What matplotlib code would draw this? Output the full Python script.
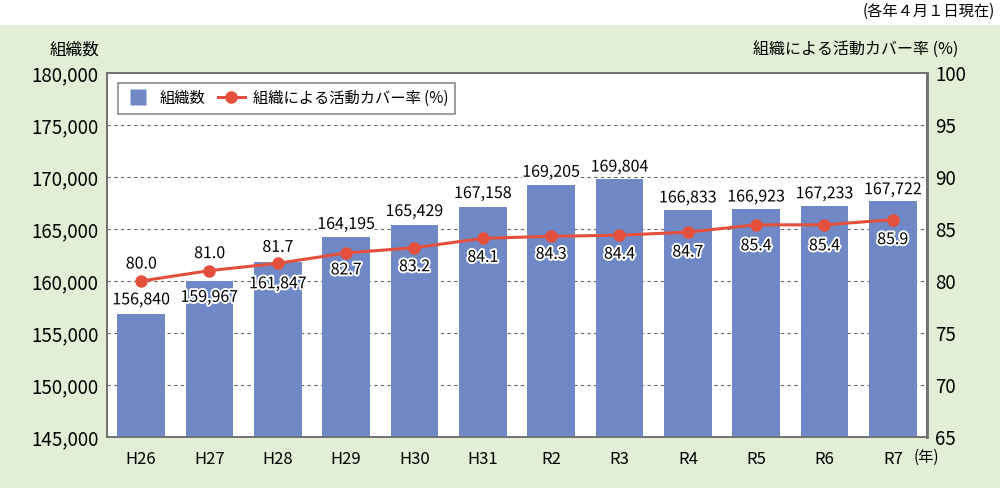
import matplotlib
matplotlib.use("Agg")
import matplotlib.pyplot as plt
import matplotlib.patheffects as pe
from matplotlib.patches import Rectangle
from matplotlib.lines import Line2D

plt.rcParams['font.family'] = ['Noto Sans CJK JP', 'DejaVu Sans']

# data
years = ['H26', 'H27', 'H28', 'H29', 'H30', 'H31', 'R2', 'R3', 'R4', 'R5', 'R6', 'R7']
orgs = [156840, 159967, 161847, 164195, 165429, 167158, 169205, 169804, 166833, 166923, 167233, 167722]
rate = [80.0, 81.0, 81.7, 82.7, 83.2, 84.1, 84.3, 84.4, 84.7, 85.4, 85.4, 85.9]

# label offsets (pixels)
org_off = [14, -16, -22, 13, 13, 13, 13, 12, 12, 12, 12, 11]
rate_off = [17, 17, 16, -17, -19, -19, -18, -19, -20, -21, -21, -20]

bar_col = '#7089C6'
line_col = '#E4503C'
bg_col = '#E2EFD6'
halo = [pe.withStroke(linewidth=2.8, foreground='white')]

fig = plt.figure(figsize=(10, 4.88), dpi=100)
fig.patches.append(Rectangle((0, 0), 1, 1 - 25/488, transform=fig.transFigure,
                             facecolor=bg_col, edgecolor='none', zorder=-10))

ax = fig.add_axes([0.107, 1 - 437/488, 0.82, (437 - 73)/488])
x = list(range(len(years)))
ax.bar(x, orgs, width=0.7, color=bar_col, zorder=2)
ax.set_ylim(145000, 180000)
ax.set_xlim(-0.5, len(years) - 0.5)
ax.set_yticks(range(145000, 180001, 5000))
ax.set_yticklabels([f'{v:,}' for v in range(145000, 180001, 5000)], fontsize=13.5)
ax.set_xticks(x)
ax.set_xticklabels(years, fontsize=12)
ax.tick_params(length=0, pad=6)
ax.tick_params(axis='x', pad=10)
for yv in range(150000, 180000, 5000):
    ax.axhline(yv, color='#666666', lw=0.8, ls=(0, (3, 3)), zorder=1)
for s in ax.spines.values():
    s.set_color('#707070')
    s.set_linewidth(1.2)

ax2 = ax.twinx()
ax2.plot(x, rate, color=line_col, lw=2.2, marker='o', ms=8, zorder=3)
ax2.set_ylim(65, 100)
ax2.set_yticks(range(65, 101, 5))
ax2.set_yticklabels([str(v) for v in range(65, 101, 5)], fontsize=13.5)
ax2.tick_params(length=0, pad=6)
for s in ax2.spines.values():
    s.set_color('#707070')
    s.set_linewidth(1.2)
ax2.spines['right'].set_linewidth(2)

for i, v in enumerate(orgs):
    t = ax.annotate(f'{v:,}', (i, v), xytext=(0, org_off[i]), textcoords='offset pixels',
                    ha='center', va='center', fontsize=11.5, zorder=5)
    t.set_path_effects(halo)
for i, v in enumerate(rate):
    t = ax2.annotate(f'{v:.1f}', (i, v), xytext=(0, rate_off[i]), textcoords='offset pixels',
                     ha='center', va='center', fontsize=11.5, zorder=5)
    t.set_path_effects(halo)

handles = [Line2D([], [], marker='s', color='none', markerfacecolor=bar_col, markeredgecolor='none', ms=11),
           Line2D([], [], color=line_col, lw=2.2, marker='o', ms=8)]
leg = ax2.legend(handles, ['組織数', '組織による活動カバー率 (%)'], loc='upper left',
                 bbox_to_anchor=(0.013, 0.973), borderaxespad=0, ncol=2, fontsize=11,
                 frameon=True, fancybox=False, edgecolor='#707070', handlelength=1.8,
                 columnspacing=0.8, handletextpad=0.5, borderpad=0.45)
leg.get_frame().set_linewidth(1.2)

fig.text(100/1000, 1 - 50/488, '組織数', ha='right', va='center', fontsize=12)
fig.text(958/1000, 1 - 50/488, '組織による活動カバー率 (%)', ha='right', va='center', fontsize=11.5)
fig.text(995/1000, 1 - 11/488, '(各年４月１日現在)', ha='right', va='center', fontsize=11)
fig.text(914/1000, 1 - 457/488, '(年)', ha='left', va='center', fontsize=11)

fig.savefig('out.png', dpi=100)
